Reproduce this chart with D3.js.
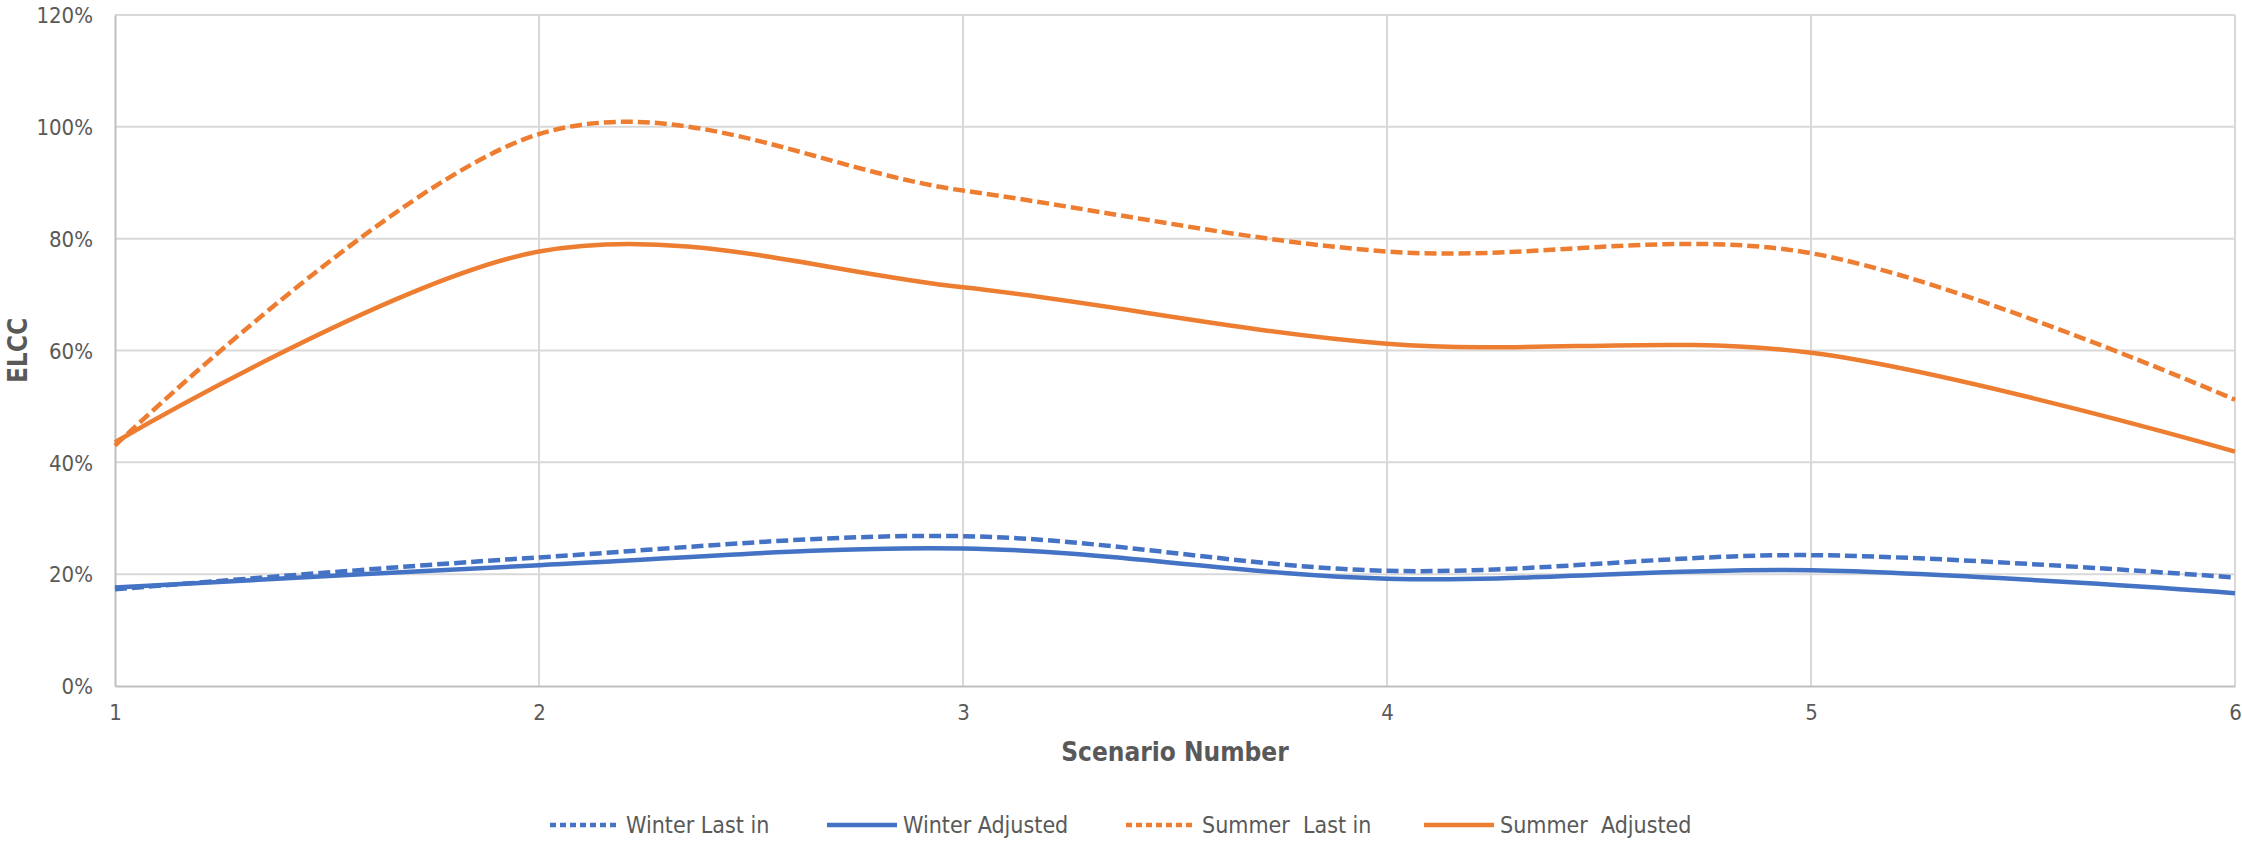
<!DOCTYPE html>
<html>
<head>
<meta charset="utf-8">
<script src="https://cdn.jsdelivr.net/npm/d3@7"></script>
<style>
  html, body { margin: 0; padding: 0; background: #fff; }
  svg text { font-family: "DejaVu Sans Condensed", "DejaVu Sans", sans-serif; font-stretch: condensed; fill: #595959; }
</style>
</head>
<body>
<svg id="chart" width="2242" height="841"></svg>
<script>
// Scenario numbers on the x axis
const scenarios = [1, 2, 3, 4, 5, 6];

// ELCC (%) per scenario
const winterLastIn   = [17.3, 23.0, 26.8, 20.6, 23.4, 19.4];
const winterAdjusted = [17.6, 21.6, 24.6, 19.2, 20.7, 16.6];
const summerLastIn   = [43.0, 98.7, 88.6, 77.7, 77.4, 51.2];
const summerAdjusted = [43.6, 77.7, 71.3, 61.2, 59.6, 41.9];

const seriesNames  = ["Winter Last in", "Winter Adjusted", "Summer  Last in", "Summer  Adjusted"];
const yTickValues  = [0, 20, 40, 60, 80, 100, 120];

const series = [
  { name: seriesNames[0], values: winterLastIn,   color: "#4472C4", dashed: true },
  { name: seriesNames[1], values: winterAdjusted, color: "#4472C4", dashed: false },
  { name: seriesNames[2], values: summerLastIn,   color: "#ED7D31", dashed: true },
  { name: seriesNames[3], values: summerAdjusted, color: "#ED7D31", dashed: false }
];

const svg = d3.select("#chart");
const plot = { left: 115, right: 2235, top: 15, bottom: 686 };

const x = d3.scaleLinear().domain([1, 6]).range([plot.left, plot.right]);
const y = d3.scaleLinear().domain([0, 120]).range([plot.bottom, plot.top]);

// gridlines
const grid = svg.append("g");
grid.selectAll("line.h").data(yTickValues.filter(v => v > 0)).join("line")
  .attr("x1", plot.left).attr("x2", plot.right)
  .attr("y1", d => y(d)).attr("y2", d => y(d))
  .attr("stroke", "#D9D9D9").attr("stroke-width", 2);
grid.selectAll("line.v").data(scenarios.slice(1)).join("line")
  .attr("x1", d => x(d)).attr("x2", d => x(d))
  .attr("y1", plot.top).attr("y2", plot.bottom)
  .attr("stroke", "#D9D9D9").attr("stroke-width", 2);

// axes
const yAxis = svg.append("g").attr("transform", `translate(${plot.left},0)`)
  .call(d3.axisLeft(y).tickValues(yTickValues).tickFormat(d => d + "%").tickSize(0).tickPadding(22));
yAxis.select(".domain").attr("stroke", "#BFBFBF").attr("stroke-width", 2);
yAxis.selectAll("text").attr("font-size", 22).attr("dy", "0.35em");

const xAxis = svg.append("g").attr("transform", `translate(0,${plot.bottom})`)
  .call(d3.axisBottom(x).tickValues(scenarios).tickFormat(d3.format("d")).tickSize(0).tickPadding(18));
xAxis.select(".domain").attr("stroke", "#BFBFBF").attr("stroke-width", 2);
xAxis.selectAll("text").attr("font-size", 22);

// axis titles
svg.append("text")
  .attr("x", (plot.left + plot.right) / 2).attr("y", 752)
  .attr("text-anchor", "middle").attr("dominant-baseline", "central")
  .attr("font-size", 26).attr("font-weight", "bold")
  .text("Scenario Number");
svg.append("text")
  .attr("transform", `translate(18,${(plot.top + plot.bottom) / 2}) rotate(-90)`)
  .attr("text-anchor", "middle").attr("dominant-baseline", "central")
  .attr("font-size", 26).attr("font-weight", "bold")
  .text("ELCC");

// smoothed lines
const line = d3.line()
  .x((d, i) => x(scenarios[i]))
  .y(d => y(d))
  .curve(d3.curveCardinal.tension(0));

svg.append("g").selectAll("path").data(series).join("path")
  .attr("d", d => line(d.values))
  .attr("fill", "none")
  .attr("stroke", d => d.color)
  .attr("stroke-width", 4.5)
  .attr("stroke-dasharray", d => d.dashed ? "12 5" : null);

// legend: swatch start positions for each entry
const legendX = [550, 827, 1126, 1424];
const ly = 825;
const legend = svg.append("g");
series.forEach((s, i) => {
  const lx = legendX[i];
  legend.append("line")
    .attr("x1", lx).attr("x2", lx + 70).attr("y1", ly).attr("y2", ly)
    .attr("stroke", s.color).attr("stroke-width", 4.5)
    .attr("stroke-dasharray", s.dashed ? "6 4" : null);
  legend.append("text")
    .attr("x", lx + 76).attr("y", ly)
    .attr("dominant-baseline", "central")
    .attr("font-size", 23)
    .style("white-space", "pre")
    .attr("xml:space", "preserve")
    .text(s.name);
});
</script>
</body>
</html>
